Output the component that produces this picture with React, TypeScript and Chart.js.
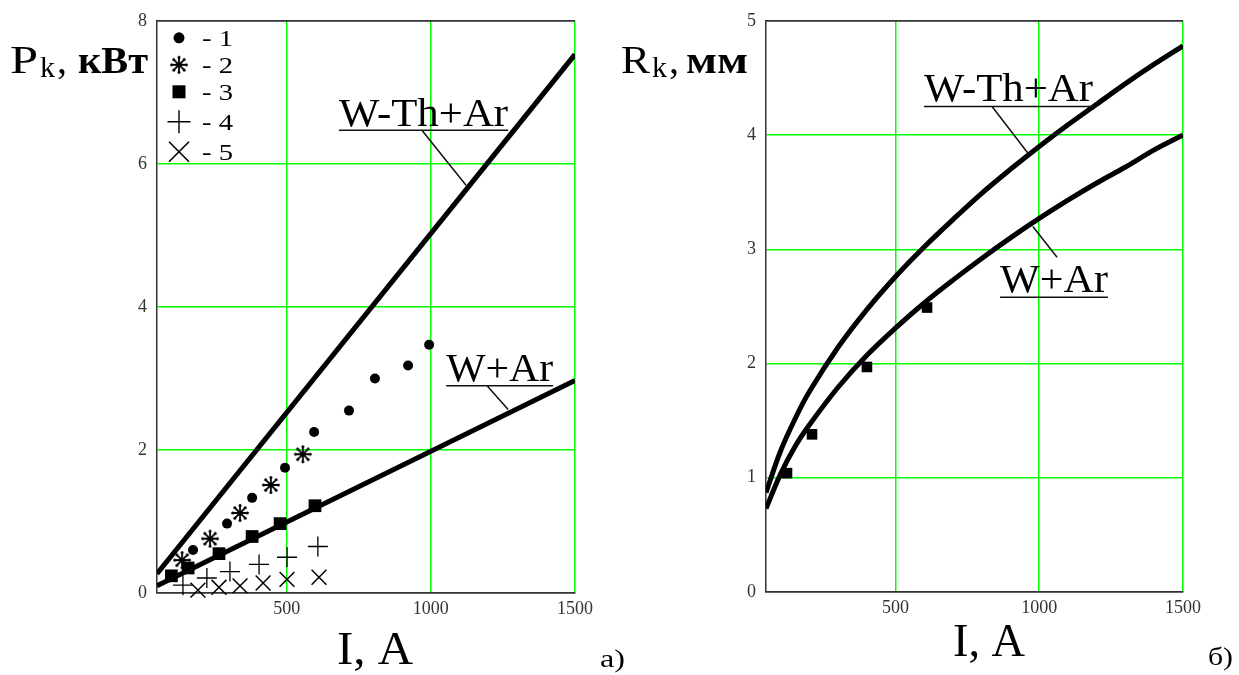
import React, { useEffect, useRef } from 'react';
import { Chart, registerables } from 'chart.js';
Chart.register(...registerables);

// ---------- data (left chart: P_k, kW vs I, A) ----------
const xTicks = [500, 1000, 1500];
const yTicksA = [0, 2, 4, 6, 8];
const yTicksB = [0, 1, 2, 3, 4, 5];

const lineI = [50, 1500];
const pWThAr = [0.27, 7.53];
const pWAr = [0.1, 2.97];

const s1I = [175, 293, 380, 494, 595, 716, 806, 921, 994];
const s1P = [0.6, 0.97, 1.33, 1.75, 2.25, 2.55, 3.0, 3.18, 3.47];
const s2I = [137, 234, 338, 445, 556];
const s2P = [0.46, 0.76, 1.12, 1.51, 1.94];
const s3I = [100, 158, 265, 380, 477, 598];
const s3P = [0.24, 0.35, 0.55, 0.79, 0.97, 1.22];
const s4I = [140, 223, 303, 404, 501, 608];
const s4P = [0.11, 0.21, 0.3, 0.4, 0.5, 0.65];
const s5I = [192, 265, 338, 418, 501, 612];
const s5P = [0.04, 0.08, 0.1, 0.14, 0.19, 0.22];

// ---------- data (right chart: R_k, mm vs I, A) ----------
const curveI = [50, 100, 150, 200, 300, 400, 500, 600, 700, 800, 900, 1000, 1100, 1200, 1300, 1400, 1500];
const rWThAr = [0.87, 1.23, 1.51, 1.75, 2.14, 2.47, 2.76, 3.02, 3.26, 3.49, 3.7, 3.9, 4.09, 4.27, 4.45, 4.62, 4.78];
const rWAr = [0.73, 1.03, 1.27, 1.46, 1.79, 2.07, 2.31, 2.53, 2.73, 2.92, 3.1, 3.27, 3.43, 3.58, 3.72, 3.87, 4.0];
const sqI = [123, 210, 401, 610];
const sqR = [1.04, 1.38, 1.97, 2.49];

const legendLabels = ['- 1', '- 2', '- 3', '- 4', '- 5'];

const GREEN = '#00ff00';
const AXIS = '#333';
const SERIF = "'Liberation Serif', 'DejaVu Serif', serif";

const zip = (xs: number[], ys: number[]) => xs.map((x, i) => ({ x, y: ys[i] }));

function makeAsterisk(r: number): HTMLCanvasElement {
  const c = document.createElement('canvas');
  const s = Math.ceil(2 * r + 4);
  c.width = s;
  c.height = s;
  const g = c.getContext('2d')!;
  g.strokeStyle = '#000';
  g.fillStyle = '#000';
  g.lineWidth = 1.8;
  g.lineCap = 'round';
  const cx = s / 2;
  for (let k = 0; k < 8; k++) {
    const a = (k * Math.PI) / 4;
    const ex = cx + Math.cos(a) * r * 0.82;
    const ey = cx + Math.sin(a) * r * 0.82;
    g.beginPath();
    g.moveTo(cx, cx);
    g.lineTo(ex, ey);
    g.stroke();
    g.beginPath();
    g.arc(ex, ey, 1.5, 0, Math.PI * 2);
    g.fill();
  }
  return c;
}

function fitText(ctx: CanvasRenderingContext2D, text: string, font: string, x0: number, x1: number, base: number) {
  ctx.save();
  ctx.font = font;
  ctx.textAlign = 'left';
  ctx.textBaseline = 'alphabetic';
  const w = ctx.measureText(text).width;
  ctx.translate(x0, base);
  ctx.scale((x1 - x0) / w, 1);
  ctx.fillText(text, 0, 0);
  ctx.restore();
}

type Note = { text: string; x0: number; x1: number; base: number; under: number; lead: number[][] };
type Deco = {
  off: number;
  main: string; sub: string; unit: string;
  mainX: number[]; subX: number[]; commaX: number; unitX: number[];
  xt: number[]; xtBase: number;
  tag: string; tagX: number[]; tagBase: number;
  notes: Note[];
  legend: boolean;
  ast?: HTMLCanvasElement;
};

function drawSym(ctx: CanvasRenderingContext2D, i: number, x: number, y: number, ast?: HTMLCanvasElement) {
  ctx.save();
  ctx.fillStyle = '#000';
  ctx.strokeStyle = '#000';
  if (i === 0) {
    ctx.beginPath();
    ctx.arc(x, y, 5.5, 0, Math.PI * 2);
    ctx.fill();
  } else if (i === 1 && ast) {
    ctx.drawImage(ast, x - ast.width / 2, y - ast.height / 2);
  } else if (i === 2) {
    ctx.fillRect(x - 6.5, y - 6.5, 13, 13);
  } else if (i === 3) {
    ctx.lineWidth = 1.4;
    ctx.beginPath();
    ctx.moveTo(x - 11.5, y); ctx.lineTo(x + 11.5, y);
    ctx.moveTo(x, y - 11.5); ctx.lineTo(x, y + 11.5);
    ctx.stroke();
  } else {
    ctx.lineWidth = 1.6;
    ctx.beginPath();
    ctx.moveTo(x - 10, y - 10); ctx.lineTo(x + 10, y + 10);
    ctx.moveTo(x + 10, y - 10); ctx.lineTo(x - 10, y + 10);
    ctx.stroke();
  }
  ctx.restore();
}

function decoPlugin(d: Deco) {
  return {
    id: 'deco',
    afterDraw(chart: any) {
      const ctx: CanvasRenderingContext2D = chart.ctx;
      const xs = chart.scales.x;
      const ys = chart.scales.y;
      const o = d.off;
      ctx.save();
      ctx.fillStyle = '#000';
      // y title
      fitText(ctx, d.main, `40px ${SERIF}`, d.mainX[0] - o, d.mainX[1] - o, 73);
      fitText(ctx, d.sub, `30px ${SERIF}`, d.subX[0] - o, d.subX[1] - o, 77);
      ctx.font = `40px ${SERIF}`;
      ctx.fillText(',', d.commaX - o, 73);
      fitText(ctx, d.unit, `bold 38px ${SERIF}`, d.unitX[0] - o, d.unitX[1] - o, 73);
      // x title
      fitText(ctx, 'I, A', `46px ${SERIF}`, d.xt[0] - o, d.xt[1] - o, d.xtBase);
      // panel tag
      fitText(ctx, d.tag, `26px ${SERIF}`, d.tagX[0] - o, d.tagX[1] - o, d.tagBase);
      // annotations
      ctx.strokeStyle = '#111';
      ctx.lineWidth = 1.5;
      for (const n of d.notes) {
        const px0 = xs.getPixelForValue(n.x0);
        const px1 = xs.getPixelForValue(n.x1);
        fitText(ctx, n.text, `40px ${SERIF}`, px0, px1, ys.getPixelForValue(n.base));
        const uy = ys.getPixelForValue(n.under);
        ctx.beginPath();
        ctx.moveTo(px0, uy);
        ctx.lineTo(px1, uy);
        ctx.moveTo(xs.getPixelForValue(n.lead[0][0]), ys.getPixelForValue(n.lead[0][1]));
        ctx.lineTo(xs.getPixelForValue(n.lead[1][0]), ys.getPixelForValue(n.lead[1][1]));
        ctx.stroke();
      }
      // top border
      const ca = chart.chartArea;
      ctx.strokeStyle = AXIS;
      ctx.lineWidth = 1.5;
      ctx.beginPath();
      ctx.moveTo(ca.left, ca.top);
      ctx.lineTo(ca.right, ca.top);
      ctx.stroke();
      // legend
      if (d.legend) {
        const rows = [17, 44, 71, 101, 131];
        rows.forEach((r, i) => {
          const y = ca.top + r;
          drawSym(ctx, i, ca.left + 22, y, d.ast);
          ctx.fillStyle = '#000';
          fitText(ctx, legendLabels[i], `24px ${SERIF}`, ca.left + 45, ca.left + 76, y + 8.5);
        });
      }
      ctx.restore();
    },
  };
}

function scales(ymax: number, yTicks: number[], yW: number, xH: number) {
  const tickFont = { family: SERIF, size: 18 };
  return {
    x: {
      type: 'linear',
      min: 50,
      max: 1500,
      afterBuildTicks: (s: any) => { s.ticks = xTicks.map((v) => ({ value: v })); },
      afterFit: (s: any) => { s.height = xH; },
      ticks: { font: tickFont, color: '#333', padding: 5, maxRotation: 0, autoSkip: false, callback: (v: any) => String(v) },
      grid: { color: GREEN, lineWidth: 1.5, drawTicks: false },
      border: { color: AXIS, width: 1.5 },
    },
    y: {
      type: 'linear',
      min: 0,
      max: ymax,
      afterBuildTicks: (s: any) => { s.ticks = yTicks.map((v) => ({ value: v })); },
      afterFit: (s: any) => { s.width = yW; },
      ticks: { font: tickFont, color: '#333', padding: 10, autoSkip: false, callback: (v: any) => String(v) },
      grid: {
        color: (c: any) => (c.tick && (c.tick.value === 0 || c.tick.value === ymax) ? AXIS : GREEN),
        lineWidth: 1.5,
        drawTicks: false,
      },
      border: { color: AXIS, width: 1.5 },
    },
  };
}

const curveStyle = { showLine: true, borderColor: '#000', borderWidth: 5, pointRadius: 0, fill: false };

function leftConfig(ast: HTMLCanvasElement) {
  return {
    type: 'scatter',
    data: {
      datasets: [
        { label: '1', data: zip(s1I, s1P), pointStyle: 'circle', pointRadius: 5, pointBackgroundColor: '#000', pointBorderWidth: 0, clip: false },
        { label: '2', data: zip(s2I, s2P), pointStyle: ast, pointRadius: 9, clip: false },
        { label: '3', data: zip(s3I, s3P), pointStyle: 'rect', pointRadius: 9, pointBackgroundColor: '#000', pointBorderWidth: 0, clip: false },
        { label: '4', data: zip(s4I, s4P), pointStyle: 'cross', pointRadius: 10, pointBorderColor: '#000', pointBorderWidth: 1.3, clip: false },
        { label: '5', data: zip(s5I, s5P), pointStyle: 'crossRot', pointRadius: 10.5, pointBorderColor: '#000', pointBorderWidth: 1.5, clip: false },
        { label: 'W-Th+Ar', data: zip(lineI, pWThAr), ...curveStyle },
        { label: 'W+Ar', data: zip(lineI, pWAr), ...curveStyle },
      ],
    },
    options: {
      animation: false,
      responsive: false,
      devicePixelRatio: 1,
      events: [],
      layout: { padding: { left: 0, top: 16, right: 65, bottom: 0 } },
      plugins: { legend: { display: false }, tooltip: { enabled: false } },
      scales: scales(8, yTicksA, 157, 82),
    },
    plugins: [
      decoPlugin({
        off: 0,
        main: 'P', sub: 'k', unit: 'кВт',
        mainX: [10, 38], subX: [40, 55], commaX: 57, unitX: [78, 148],
        xt: [337, 413], xtBase: 664,
        tag: 'а)', tagX: [600, 625], tagBase: 667,
        legend: true,
        ast,
        notes: [
          { text: 'W-Th+Ar', x0: 681, x1: 1268, base: 6.53, under: 6.47, lead: [[969, 6.47], [1122, 5.7]] },
          { text: 'W+Ar', x0: 1053, x1: 1424, base: 2.967, under: 2.898, lead: [[1195, 2.898], [1268, 2.565]] },
        ],
      }),
    ],
  };
}

const RIGHT_OFF = 600;

function rightConfig() {
  return {
    type: 'scatter',
    data: {
      datasets: [
        { label: 'exp', data: zip(sqI, sqR), pointStyle: 'rect', pointRadius: 7.5, pointBackgroundColor: '#000', pointBorderWidth: 0, clip: false },
        { label: 'W-Th+Ar', data: zip(curveI, rWThAr), ...curveStyle, tension: 0.35 },
        { label: 'W+Ar', data: zip(curveI, rWAr), ...curveStyle, tension: 0.35 },
      ],
    },
    options: {
      animation: false,
      responsive: false,
      devicePixelRatio: 1,
      events: [],
      layout: { padding: { left: 0, top: 16, right: 56, bottom: 0 } },
      plugins: { legend: { display: false }, tooltip: { enabled: false } },
      scales: scales(5, yTicksB, 166, 83),
    },
    plugins: [
      decoPlugin({
        off: RIGHT_OFF,
        main: 'R', sub: 'k', unit: 'мм',
        mainX: [621, 650], subX: [652, 667], commaX: 669, unitX: [686, 748],
        xt: [953, 1025], xtBase: 656,
        tag: 'б)', tagX: [1208, 1233], tagBase: 665,
        legend: false,
        notes: [
          { text: 'W-Th+Ar', x0: 599, x1: 1187, base: 4.3, under: 4.25, lead: [[836, 4.25], [961, 3.84]] },
          { text: 'W+Ar', x0: 864, x1: 1239, base: 2.63, under: 2.58, lead: [[1062, 2.93], [978, 3.2]] },
        ],
      }),
    ],
  };
}

function ChartCanvas({ build, left, width }: { build: () => any; left: number; width: number }) {
  const ref = useRef<HTMLCanvasElement>(null);
  useEffect(() => {
    const chart = new Chart(ref.current as HTMLCanvasElement, build());
    return () => chart.destroy();
  }, []);
  return (
    <canvas
      ref={ref}
      width={width}
      height={675}
      style={{ position: 'absolute', left, top: 0, width, height: 675 }}
    />
  );
}

export default function App() {
  return (
    <div style={{ position: 'absolute', left: 0, top: 0, width: 1239, height: 675, background: '#fff', overflow: 'hidden' }}>
      <ChartCanvas build={() => leftConfig(makeAsterisk(9))} left={0} width={640} />
      <ChartCanvas build={rightConfig} left={RIGHT_OFF} width={639} />
    </div>
  );
}
